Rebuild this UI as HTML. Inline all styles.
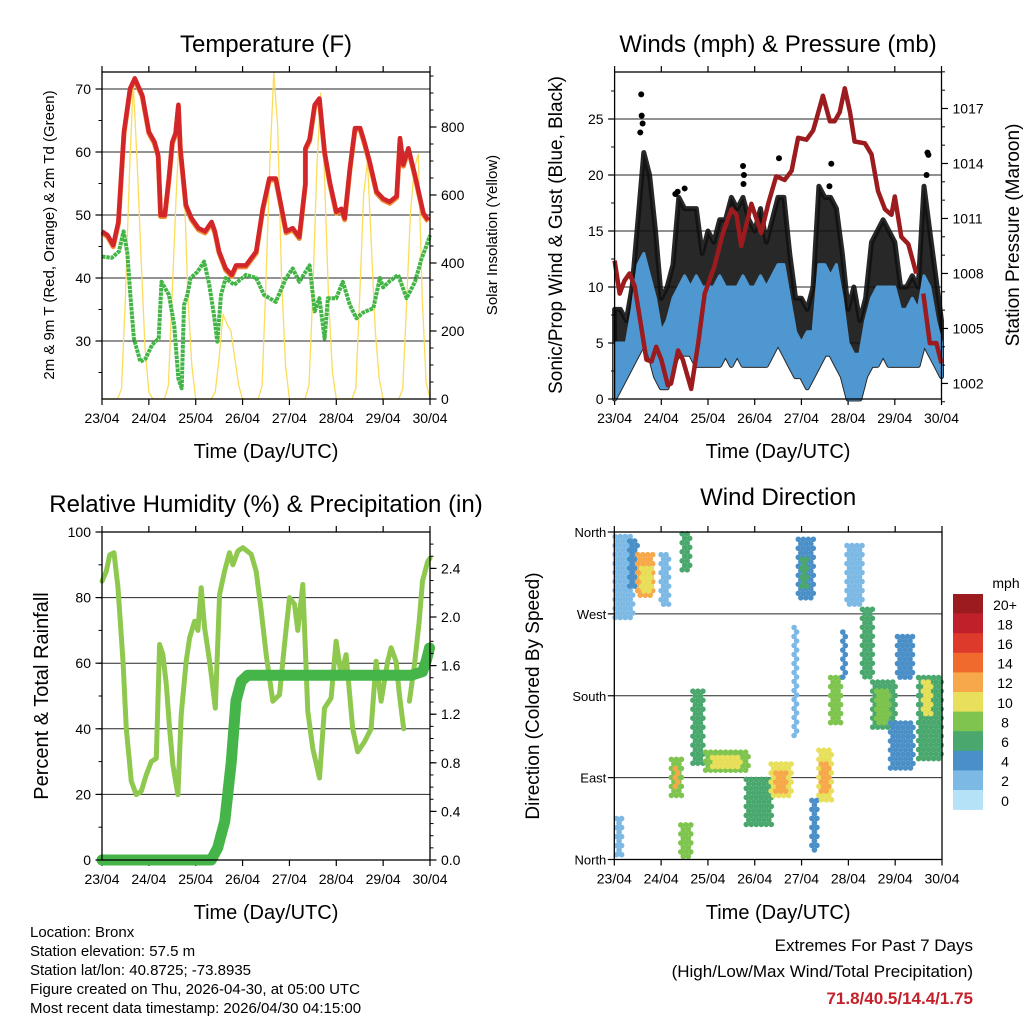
<!DOCTYPE html>
<html><head><meta charset="utf-8"><title>Weather station charts</title>
<style>
html,body{margin:0;padding:0;background:#fff;}
svg{display:block;font-family:"Liberation Sans",sans-serif;}
</style></head>
<body>
<svg id="chart" width="1024" height="1024" viewBox="0 0 1024 1024" xmlns="http://www.w3.org/2000/svg">
<rect width="1024" height="1024" fill="#fff"/>
<g id="g1"></g>
<g id="g2"></g>
<g id="g3"></g>
<g id="g4"></g>
<g id="info" font-size="15" fill="#000">
<text x="30" y="937">Location: Bronx</text>
<text x="30" y="956">Station elevation: 57.5 m</text>
<text x="30" y="975">Station lat/lon: 40.8725; -73.8935</text>
<text x="30" y="994">Figure created on Thu, 2026-04-30, at 05:00 UTC</text>
<text x="30" y="1013">Most recent data timestamp: 2026/04/30 04:15:00</text>
</g>
<g font-size="17" text-anchor="end">
<text x="973" y="951">Extremes For Past 7 Days</text>
<text x="973" y="977">(High/Low/Max Wind/Total Precipitation)</text>
<text x="973" y="1004" fill="#c4202a" font-weight="bold">71.8/40.5/14.4/1.75</text>
</g>
</svg>
<script>
// ---------- DATA ----------
const dayLabels = ["23/04","24/04","25/04","26/04","27/04","28/04","29/04","30/04"];
// Temperature (days, degF)
const tempDays = [0,0.12,0.24,0.35,0.47,0.6,0.7,0.86,1.0,1.12,1.2,1.25,1.34,1.43,1.5,1.57,1.63,1.67,1.79,1.91,2.06,2.2,2.34,2.41,2.5,2.64,2.77,2.86,3.07,3.29,3.43,3.57,3.71,3.82,3.93,4.07,4.21,4.34,4.34,4.43,4.54,4.64,4.75,4.86,5.0,5.11,5.18,5.29,5.4,5.51,5.6,5.71,5.86,6.0,6.14,6.29,6.36,6.43,6.54,6.68,6.86,6.96];
const tempVals = [47.4,46.8,45.2,48.9,63.2,70.1,71.7,69,63.2,61.6,59.5,50,50,56,61.6,63,67.5,60.6,51.6,49.5,47.9,47.4,48.9,47.4,44.2,41.5,40.5,42,42,44.2,51,55.8,55.8,51.6,47.4,47.9,46.5,55,60.6,62,67.5,68.5,60,55.3,50.5,51,49.5,57.4,63.8,63.8,61.6,58.5,53.7,52.6,52.1,53,62.2,58,60.6,56.3,50.3,49.2];
const dewDays = [0,0.21,0.36,0.46,0.54,0.61,0.68,0.82,0.93,1.07,1.21,1.27,1.43,1.54,1.63,1.7,1.75,1.82,1.89,2.04,2.18,2.29,2.39,2.46,2.54,2.64,2.82,3.07,3.29,3.46,3.71,3.93,4.07,4.21,4.43,4.54,4.64,4.75,4.82,5.0,5.14,5.29,5.43,5.57,5.79,5.93,6.0,6.14,6.32,6.5,6.68,6.82,6.93,7.0];
const dewVals = [43.4,43.2,44.2,47.4,44,36.8,30.4,26.7,27.2,29.4,30.4,39.4,37.3,32.5,24,22.5,35.7,37.3,40,41,42.6,38.9,34.1,29.9,37.3,40,38.9,40.5,40,37.3,36.2,40,41.5,39.4,42,34.7,36.8,30.4,36.8,36.8,39.4,35.7,33.6,34.5,35.2,40,38.5,39.5,40.5,36.8,39.4,43.1,45.2,46.8];
// Solar insolation, every 2 hours from 23/04 00 UTC (W/m2)
const solarVals = [0,0,0,0,0,30,300,650,930,700,420,150,
 20,0,0,0,0,40,320,600,830,650,300,100,
 0,0,0,0,0,20,120,250,220,200,120,40,
 0,0,0,0,0,40,350,700,960,800,350,100,
 0,0,0,0,0,40,320,680,900,650,300,80,
 0,0,0,0,0,30,300,600,700,450,200,60,
 0,0,0,0,0,30,280,550,680,720,300,50,0];
// Winds, every 3 hours (mph)
const blueLo = [0,1,2,3,4,5,4,2,1,1,3,4,4,4,3,3,3,3,3,4,3,4,3,3,3,3,3,4,5,4,3,2,2,1,2,3,4,4,3,2,0,0,0,2,3,3,4,3,3,3,3,3,3,5,4,3,2];
const blueHi = [5,5,5,8,12,13,11,9,6,7,9,10,11,10,11,10,10,10,11,10,10,10,11,10,10,11,10,11,12,12,9,6,5,6,6,12,12,11,12,9,5,4,4,7,9,10,10,10,10,8,8,9,8,11,10,7,5];
const gustHi = [8,8,7,10,16,22,20,15,9,10,12,18,17,17,17,13,15,14,16,16,18,17,18,16,15,17,14,16,18,18,13,9,9,8,10,19,18,18,17,13,8,10,7,9,14,15,16,15,14,10,10,11,10,19,15,11,7];
const gustOutDay = [0.57,0.58,0.6,0.55,1.35,2.75,2.77,2.76,3.52,4.64,4.6,6.7,6.72,6.68,1.5,1.3];
const gustOutVal = [27.2,25.3,24.6,23.8,18.5,20.8,20,19.2,21.5,21,19,22,21.8,20,18.8,18.3];
// Pressure (days, mb)
const presDays = [0,0.11,0.21,0.32,0.43,0.57,0.68,0.79,0.89,1.0,1.14,1.21,1.36,1.46,1.64,1.79,1.93,2.14,2.32,2.5,2.61,2.71,2.93,3.14,3.29,3.46,3.64,3.79,3.93,4.11,4.25,4.32,4.46,4.61,4.71,4.82,4.93,5.04,5.14,5.36,5.5,5.64,5.79,5.93,6.0,6.14,6.29,6.46];
const presVals = [1008.7,1006.9,1007.6,1008,1007.3,1005.1,1003.3,1003.2,1004,1003.3,1001.9,1002,1003.8,1003.3,1001.7,1004.2,1006.9,1008.4,1010.2,1011.5,1011.2,1009.5,1011.8,1010.2,1011.8,1013.3,1013.1,1013.6,1015.4,1015.3,1015.8,1016.4,1017.7,1016.3,1016.3,1016.8,1018.1,1016.8,1015.2,1015.1,1014.5,1012.5,1011.5,1011.2,1012.2,1010,1009.6,1008];
const presDays2 = [6.61,6.75,6.89,7.0];
const presVals2 = [1006.9,1004.2,1004.2,1003.1];
// Relative humidity (days, %)
const rhDays = [0,0.092,0.164,0.256,0.341,0.448,0.519,0.625,0.732,0.839,0.945,1.052,1.158,1.229,1.3,1.372,1.443,1.514,1.62,1.691,1.798,1.869,1.976,2.047,2.118,2.189,2.296,2.417,2.509,2.615,2.722,2.793,2.9,3.006,3.184,3.291,3.397,3.504,3.646,3.788,3.895,4.001,4.108,4.179,4.286,4.392,4.499,4.641,4.748,4.89,4.996,5.103,5.209,5.351,5.458,5.6,5.742,5.849,5.956,6.098,6.169,6.275,6.346,6.439];
const rhVals = [85,88,93,93.7,83,60.6,40,24,19.9,21,26,30,31,65.7,62.6,53.5,40,29,19.9,44.3,60.6,67.7,72.8,70,83,70.8,60.6,46.3,81,88,93.7,90,94.2,95.2,93.2,88,76,62.6,48.4,50.4,65.7,80,78,70,84,45.3,34,25,46.3,49.4,66.7,56.5,62.6,40,33,36,40,60.6,48.4,60.6,64.7,60.6,50.4,40];
const rhDays2 = [6.56,6.67,6.77,6.84,6.95,7.0];
const rhVals2 = [48.4,59.6,72.8,85,91,92];
const precipDays = [0,2.33,2.47,2.62,2.76,2.86,2.97,3.11,6.6,6.84,6.92,6.99];
const precipVals = [0,0,0.1,0.32,0.81,1.31,1.47,1.52,1.52,1.55,1.64,1.745];
// Wind direction clusters (day range, direction range in degrees, speed mph)
const clDay0 = [0.02,0.33,0.5,0.58,1.0,1.45,0.05,1.22,1.3,1.42,1.68,1.95,2.1,2.82,3.35,3.45,3.84,3.93,4.0,4.22,4.37,4.42,4.62,4.88,4.97,5.3,5.52,5.6,5.9,6.05,6.5,6.6];
const clDay1 = [0.42,0.5,0.87,0.8,1.2,1.62,0.2,1.45,1.4,1.68,1.93,2.9,2.7,3.4,3.82,3.7,3.92,4.25,4.15,4.33,4.68,4.6,4.88,4.94,5.33,5.55,6.05,5.9,6.4,6.4,6.98,6.8];
const clDir0 = [265,300,290,295,280,318,5,70,80,3,105,97,100,35,68,75,135,285,300,10,65,75,150,200,280,200,145,150,97,200,110,160];
const clDir1 = [355,350,335,320,335,358,45,110,100,38,185,118,112,88,105,95,255,352,330,65,120,105,200,250,345,275,195,185,150,245,200,195];
const clSpd = [2,4,12,10,2,6,2,8,12,8,6,8,10,6,10,12,2,4,6,4,10,12,8,4,2,6,6,8,4,4,6,10];
const speedBins = ["0","2","4","6","8","10","12","14","16","18","20+"];
const speedColors = ["#b5e2f7","#7db9e5","#4a8fc7","#4aa86e","#7ec44e","#e8e05a","#f7a84a","#f06a2e","#de3a2c","#c0202a","#9b1b1e"];

// ---------- HELPERS ----------
const NS = "http://www.w3.org/2000/svg";
function el(parent, tag, attrs, text){
  const e = document.createElementNS(NS, tag);
  for (const k in attrs) e.setAttribute(k, attrs[k]);
  if (text !== undefined) e.textContent = text;
  parent.appendChild(e);
  return e;
}
function pathFrom(xs, ys){
  let d = "";
  for (let i=0;i<xs.length;i++) d += (i?"L":"M") + xs[i].toFixed(1) + "," + ys[i].toFixed(1);
  return d;
}
function frame(g, P, title, titleY, xTitleY){
  const fx = d => P.x0 + d*(P.x1-P.x0)/7;
  for (let i=0;i<8;i++){
    const x = fx(i);
    const t = el(g,"line",{x1:x,x2:x,y1:P.y1,y2:P.y1+6,stroke:"#000","stroke-width":1.2});
    
    
    const t2 = el(g,"line",{x1:x,x2:x,y1:P.y0,y2:P.y0-6,stroke:"#000","stroke-width":1.2});
    
    
    const lb = el(g,"text",{x:x,y:P.y1+24,"font-size":14,"text-anchor":"middle"},dayLabels[i]);
    
    
  }
  const xt = el(g,"text",{x:(P.x0+P.x1)/2,y:xTitleY,"font-size":20,"text-anchor":"middle"},"Time (Day/UTC)");
  
  
  const tt = el(g,"text",{x:(P.x0+P.x1)/2,y:titleY,"font-size":24,"text-anchor":"middle"},title);
  
  
  return fx;
}
function border(g,P){
  const b = el(g,"rect",{x:P.x0,y:P.y0,width:P.x1-P.x0,height:P.y1-P.y0,fill:"none",stroke:"#000","stroke-width":1.3});
  
  
}
function grid(g,P,vals,fy){
  vals.forEach(v=>{
    const y = fy(v);
    const l = el(g,"line",{x1:P.x0,x2:P.x1,y1:y,y2:y,stroke:"#000","stroke-width":1,"stroke-opacity":0.85});
    
    
  });
}
function yTicks(g,P,side,major,minor,fy,fmt,name){
  const x = side==="left"?P.x0:P.x1, s = side==="left"?-1:1;
  minor.forEach(v=>{
    const y = fy(v);
    const t = el(g,"line",{x1:x,x2:x+s*3.5,y1:y,y2:y,stroke:"#000","stroke-width":1});
    
    
  });
  major.forEach(v=>{
    const y = fy(v);
    const t = el(g,"line",{x1:x,x2:x+s*6.5,y1:y,y2:y,stroke:"#000","stroke-width":1.2});
    
    
    const lb = el(g,"text",{x:x+s*11,y:y+5,"font-size":14,"text-anchor":side==="left"?"end":"start"},fmt(v));
    
    
  });
}
function vTitle(g,x,y,size,text,name){
  const t = el(g,"text",{x:x,y:y,"font-size":size,"text-anchor":"middle",transform:"rotate(-90 "+x+" "+y+")"},text);
  
  
}
function range(a,b,s){const r=[];for(let v=a;v<=b+1e-9;v+=s)r.push(+v.toFixed(4));return r;}

// ---------- PANEL 1: Temperature ----------
(function(){
  const g = document.getElementById("g1");
  const P = {x0:102,x1:430,y0:72,y1:399};
  const fx = frame(g,P,"Temperature (F)",52,458);
  const fy = v => 89 + (70-v)*6.3;
  const fs = v => 399 - v*0.34;
  grid(g,P,[30,40,50,60,70],fy);
  const sx = solarVals.map((v,i)=>fx(i*2/24));
  const sy = solarVals.map(fs);
  const sp = el(g,"path",{d:pathFrom(sx,sy),fill:"none",stroke:"#fbdc5c","stroke-width":1.3,"stroke-linejoin":"round"});
  
  
  const dp = el(g,"path",{d:pathFrom(dewDays.map(fx),dewVals.map(fy)),fill:"none",stroke:"#43b547","stroke-width":4,"stroke-dasharray":"3.5 0.8","stroke-linejoin":"round"});
  
  
  const op = el(g,"path",{d:pathFrom(tempDays.map(fx),tempVals.map(v=>fy(v)+1.5)),fill:"none",stroke:"#f08a30","stroke-width":5,"stroke-linejoin":"round"});
  
  
  const rp = el(g,"path",{d:pathFrom(tempDays.map(fx),tempVals.map(fy)),fill:"none",stroke:"#d3262a","stroke-width":4.5,"stroke-linejoin":"round"});
  
  
  border(g,P);
  yTicks(g,P,"left",[30,40,50,60,70],range(25,70,5),fy,v=>String(v),"y-left");
  yTicks(g,P,"right",[0,200,400,600,800],range(0,950,50),fs,v=>String(v),"y-right");
  vTitle(g,54,235,15,"2m & 9m T (Red, Orange) & 2m Td (Green)","y-axis-title-left");
  vTitle(g,497,235,15,"Solar Insolation (Yellow)","y-axis-title-right");
})();

// ---------- PANEL 2: Winds & Pressure ----------
(function(){
  const g = document.getElementById("g2");
  const P = {x0:614.6,x1:941.5,y0:72,y1:399};
  const fx = frame(g,P,"Winds (mph) & Pressure (mb)",52,458);
  const fy = v => 399 - v*11.2;
  const fp = p => 108.5 + (1017-p)*18.33;
  grid(g,P,[5,10,15,20,25],fy);
  const tx = gustHi.map((v,i)=>fx(i*3/24));
  let d = pathFrom(tx,gustHi.map(fy));
  for (let i=tx.length-1;i>=0;i--) d += "L"+tx[i].toFixed(1)+","+fy(blueLo[i]).toFixed(1);
  const gb = el(g,"path",{d:d+"Z",fill:"#111",stroke:"#111","stroke-width":5,"stroke-linejoin":"round","fill-opacity":0.9,"stroke-opacity":0.9});
  
  
  gustOutDay.forEach((dd,i)=>{
    const c = el(g,"circle",{cx:fx(dd),cy:fy(gustOutVal[i]),r:3,fill:"#000"});
    
    
  });
  let d2 = pathFrom(tx,blueHi.map(fy));
  for (let i=tx.length-1;i>=0;i--) d2 += "L"+tx[i].toFixed(1)+","+fy(blueLo[i]).toFixed(1);
  const bb = el(g,"path",{d:d2+"Z",fill:"#4f97d0",stroke:"#4f97d0","stroke-width":3,"stroke-linejoin":"round"});
  
  
  const pp = el(g,"path",{d:pathFrom(presDays.map(fx),presVals.map(fp)),fill:"none",stroke:"#9b1b1e","stroke-width":4.5,"stroke-linejoin":"round"});
  
  
  const pp2 = el(g,"path",{d:pathFrom(presDays2.map(fx),presVals2.map(fp)),fill:"none",stroke:"#9b1b1e","stroke-width":4.5,"stroke-linejoin":"round"});
  
  
  border(g,P);
  yTicks(g,P,"left",[0,5,10,15,20,25],range(0,27.5,2.5),fy,v=>String(v),"y-left");
  yTicks(g,P,"right",[1002,1005,1008,1011,1014,1017],range(1001,1019,1),fp,v=>String(v),"y-right");
  vTitle(g,562,235,19,"Sonic/Prop Wind & Gust (Blue, Black)","y-axis-title-left");
  vTitle(g,1019,235,19,"Station Pressure (Maroon)","y-axis-title-right");
})();

// ---------- PANEL 3: RH & Precip ----------
(function(){
  const g = document.getElementById("g3");
  const P = {x0:102,x1:430,y0:532,y1:860};
  const fx = frame(g,P,"Relative Humidity (%) & Precipitation (in)",512,919);
  const fy = v => 860 - v*3.28;
  const fp = p => 860 - p*121.5;
  grid(g,P,[20,40,60,80],fy);
  [[rhDays,rhVals],[rhDays2,rhVals2]].forEach(([ds,vs])=>{
    const p = el(g,"path",{d:pathFrom(ds.map(fx),vs.map(fy)),fill:"none",stroke:"#8fc84f","stroke-width":5,"stroke-linejoin":"round","stroke-linecap":"round"});
    
    
  });
  const pr = el(g,"path",{d:pathFrom(precipDays.map(fx),precipVals.map(fp)),fill:"none",stroke:"#45b549","stroke-width":11,"stroke-linejoin":"round","stroke-linecap":"round"});
  
  
  border(g,P);
  yTicks(g,P,"left",[0,20,40,60,80,100],range(0,100,10),fy,v=>String(v),"y-left");
  yTicks(g,P,"right",[0,0.4,0.8,1.2,1.6,2.0,2.4],range(0,2.6,0.1),fp,v=>v.toFixed(1),"y-right");
  vTitle(g,48,696,20,"Percent & Total Rainfall","y-axis-title-left");
})();

// ---------- PANEL 4: Wind Direction ----------
(function(){
  const g = document.getElementById("g4");
  const P = {x0:614.3,x1:942,y0:532,y1:859.5};
  const fx = frame(g,P,"Wind Direction",505,919);
  const fy = d => 859.5 - d*327.5/360;
  grid(g,P,[90,180,270],fy);
  const colorFor = s => speedColors[Math.min(10,Math.round(s/2))];
  clDay0.forEach((d0,i)=>{
    const xa = fx(d0), xb = fx(clDay1[i]);
    const ya = fy(clDir1[i]), yb = fy(clDir0[i]);
    let row = 0;
    for (let y=ya; y<=yb; y+=4.5, row++){
      const off = (row%2)*2.5;
      for (let x=xa+off; x<=xb+0.1; x+=5){
        const c = el(g,"circle",{cx:x.toFixed(1),cy:y.toFixed(1),r:2.8,fill:colorFor(clSpd[i])});
        
        
      }
    }
  });
  border(g,P);
  const dirs = [0,90,180,270,360], names = ["North","East","South","West","North"];
  dirs.forEach((d,i)=>{
    const y = fy(d);
    const t = el(g,"line",{x1:P.x0,x2:P.x0-6.5,y1:y,y2:y,stroke:"#000","stroke-width":1.2});
    
    
    const lb = el(g,"text",{x:P.x0-8,y:y+5,"font-size":13,"text-anchor":"end"},names[i]);
    
    
  });
  vTitle(g,539,696,19,"Direction (Colored By Speed)","y-axis-title-left");
  const cb = el(g,"g",{});
  
  
  const top = 594, h = 19.6;
  const unit = el(cb,"text",{x:1006,y:588,"font-size":14,"text-anchor":"middle"},"mph");
  
  
  for (let k=0;k<11;k++){
    const idx = 10-k;
    const r = el(cb,"rect",{x:953,y:top+k*h,width:30,height:h+0.3,fill:speedColors[idx]});
    
    
    const lb = el(cb,"text",{x:1005,y:top+k*h+h/2+6,"font-size":14,"text-anchor":"middle"},speedBins[idx]);
    
    
  }
})();
</script>
</body></html>
